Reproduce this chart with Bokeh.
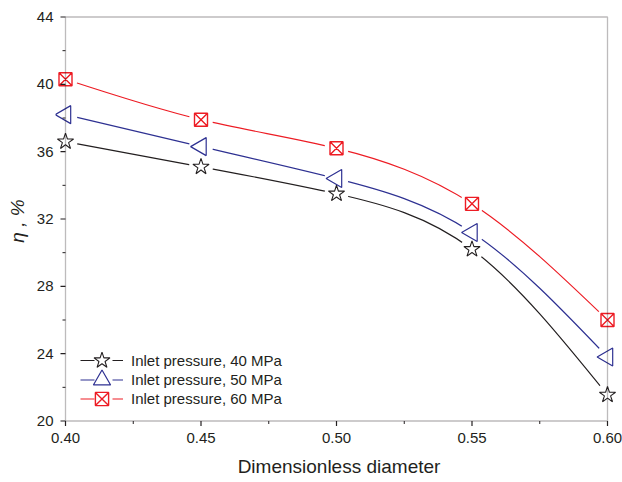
import numpy as np
from bokeh.plotting import figure
from bokeh.models import (Range1d, FixedTicker, NumeralTickFormatter, BoxAnnotation,
                          Legend, LegendItem, ColumnDataSource)
from bokeh.embed import file_html
from bokeh.resources import INLINE

# ---- data ----
diameter = [0.40, 0.45, 0.50, 0.55, 0.60]
eta_40 = [36.6, 35.1, 33.5, 30.2, 21.55]
eta_50 = [38.2, 36.3, 34.4, 31.2, 23.8]
eta_60 = [40.3, 37.9, 36.2, 32.9, 26.0]
labels = ["Inlet pressure, 40 MPa", "Inlet pressure, 50 MPa", "Inlet pressure, 60 MPa"]
x_ticks = [0.40, 0.45, 0.50, 0.55, 0.60]
x_minor = [0.425, 0.475, 0.525, 0.575]
y_ticks = [20, 24, 28, 32, 36, 40, 44]
y_minor = [22, 26, 30, 34, 38, 42]
x_lo, x_hi = 0.40, 0.60
y_lo, y_hi = 20, 44

FONT = "Liberation Sans"
DARK = "#231f20"
colors = [DARK, "#2e3192", "#ed1c24"]

# pixel scale of the axes box; the frame is padded so edge markers are not clipped
xpx = 542 / (x_hi - x_lo)
ypx = 404 / (y_hi - y_lo)
x_range = Range1d(x_lo - 10 / xpx, x_hi + 15 / xpx)
y_range = Range1d(y_lo - 6.5 / ypx, y_hi + 2.5 / ypx)

p = figure(width=622, height=482, output_backend="svg", toolbar_location=None,
           x_range=x_range, y_range=y_range,
           min_border_left=55, min_border_right=0, min_border_top=14, min_border_bottom=55)
p.background_fill_color = "white"
p.border_fill_color = "white"
p.outline_line_color = None
p.xgrid.visible = False
p.ygrid.visible = False


def spline_bezier(x, y):
    x = np.asarray(x, float)
    y = np.asarray(y, float)
    n = len(x)
    h = np.diff(x)
    A = np.zeros((n, n))
    b = np.zeros(n)
    A[0, 0] = 1
    A[-1, -1] = 1
    for i in range(1, n - 1):
        A[i, i - 1] = h[i - 1]
        A[i, i] = 2 * (h[i - 1] + h[i])
        A[i, i + 1] = h[i]
        b[i] = 6 * ((y[i + 1] - y[i]) / h[i] - (y[i] - y[i - 1]) / h[i - 1])
    M = np.linalg.solve(A, b)
    d = np.zeros(n)
    for i in range(n - 1):
        d[i] = (y[i + 1] - y[i]) / h[i] - h[i] * (2 * M[i] + M[i + 1]) / 6
    d[-1] = (y[-1] - y[-2]) / h[-1] + h[-1] * (M[-2] + 2 * M[-1]) / 6
    return dict(x0=x[:-1], y0=y[:-1], x1=x[1:], y1=y[1:],
                cx0=x[:-1] + h / 3, cy0=y[:-1] + d[:-1] * h / 3,
                cx1=x[1:] - h / 3, cy1=y[1:] - d[1:] * h / 3)


series = [eta_40, eta_50, eta_60]
curves = []
for vals, col in zip(series, colors):
    src = ColumnDataSource(spline_bezier(diameter, vals))
    curves.append(p.bezier(x0="x0", y0="y0", x1="x1", y1="y1", cx0="cx0", cy0="cy0",
                           cx1="cx1", cy1="cy1", source=src, line_color=col, line_width=1.2))

# white discs open a small gap in the curves around every symbol
for vals in series:
    p.scatter(diameter, vals, marker="circle", size=24, fill_color="white", line_color=None)

m1 = p.scatter(diameter, eta_40, marker="star", size=17, fill_color=None,
               line_color=colors[0], line_width=1.1)
m2 = p.scatter(diameter, eta_50, marker="triangle", size=18, angle=np.pi / 2,
               fill_color=None, line_color=colors[1], line_width=1.2)
m3 = p.scatter(diameter, eta_60, marker="square_x", size=13, fill_color=None,
               line_color=colors[2], line_width=1.4)
marks = [m1, m2, m3]

# legend-only line samples (a single undrawn NaN point): dashed so that the
# sample is broken around the symbol as in the original legend
legend_lines = [p.line(x=[np.nan], y=[np.nan], line_color=col, line_width=1.2,
                       line_dash="14 18") for col in colors]

# axes box
p.add_layout(BoxAnnotation(left=x_lo, right=x_hi, bottom=y_lo, top=y_hi,
                           fill_alpha=0, fill_color=None,
                           line_color=DARK, line_width=1.3))

# outward tick marks on the box edges
tl_major, tl_minor = 5, 3
p.segment(x0=x_ticks, y0=[y_lo] * len(x_ticks), x1=x_ticks,
          y1=[y_lo - tl_major / ypx] * len(x_ticks), line_color=DARK, line_width=1.2)
p.segment(x0=x_minor, y0=[y_lo] * len(x_minor), x1=x_minor,
          y1=[y_lo - tl_minor / ypx] * len(x_minor), line_color=DARK, line_width=1.0)
p.segment(x0=[x_lo] * len(y_ticks), y0=y_ticks, x1=[x_lo - tl_major / xpx] * len(y_ticks),
          y1=y_ticks, line_color=DARK, line_width=1.2)
p.segment(x0=[x_lo] * len(y_minor), y0=y_minor, x1=[x_lo - tl_minor / xpx] * len(y_minor),
          y1=y_minor, line_color=DARK, line_width=1.0)

for ax in (p.xaxis[0], p.yaxis[0]):
    ax.axis_line_color = None
    ax.major_tick_line_color = None
    ax.minor_tick_line_color = None
    ax.major_tick_out = 0
    ax.major_tick_in = 0
    ax.minor_tick_out = 0
    ax.minor_tick_in = 0
    ax.major_label_text_font = FONT
    ax.major_label_text_font_size = "15px"
    ax.major_label_text_color = DARK
    ax.axis_label_text_font = FONT
    ax.axis_label_text_font_size = "19px"
    ax.axis_label_text_color = DARK

p.xaxis.ticker = FixedTicker(ticks=x_ticks, minor_ticks=x_minor)
p.xaxis.formatter = NumeralTickFormatter(format="0.00")
p.xaxis.major_label_standoff = 5
p.xaxis.axis_label = "Dimensionless diameter"
p.xaxis.axis_label_text_font_style = "normal"
p.xaxis.axis_label_standoff = 10

p.yaxis.ticker = FixedTicker(ticks=y_ticks, minor_ticks=y_minor)
p.yaxis.formatter = NumeralTickFormatter(format="0")
p.yaxis.major_label_standoff = 2
p.yaxis.axis_label = "η , %"
p.yaxis.axis_label_text_font_style = "italic"
p.yaxis.axis_label_standoff = 6

# one legend per entry: the sample box height sets the symbol size (0.4 x height)
frame_bottom = 482 - 55
row_centers = [360, 379, 398]
glyph_heights = [42, 45, 33]
for i in range(3):
    gh = glyph_heights[i]
    leg = Legend(items=[LegendItem(label=labels[i], renderers=[legend_lines[i], marks[i]])],
                 location=(25, frame_bottom - (row_centers[i] + gh / 2)),
                 padding=0, margin=0, spacing=0,
                 glyph_width=43, glyph_height=gh, label_height=gh, label_standoff=8,
                 label_text_font=FONT, label_text_font_size="15px", label_text_color=DARK,
                 border_line_color=None, background_fill_alpha=0)
    p.add_layout(leg)

open("out.html", "w").write(file_html(p, INLINE))
